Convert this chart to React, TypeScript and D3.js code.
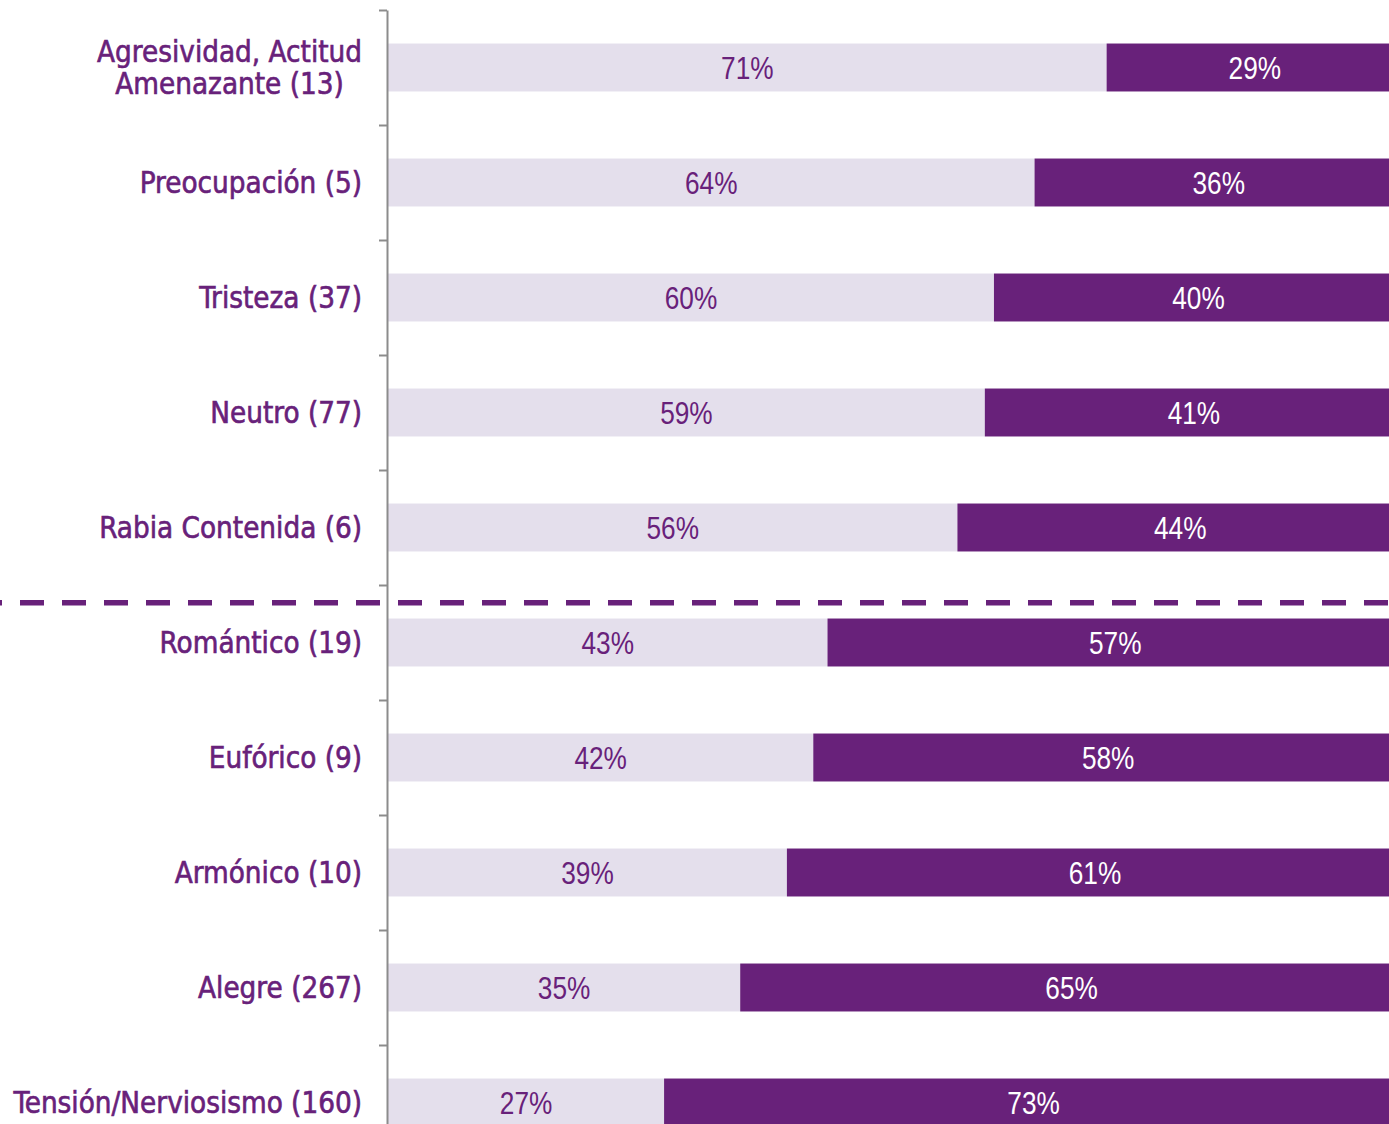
import * as d3 from 'd3';
import { useEffect, useRef } from 'react';

// categories top to bottom, a line break is written as \n
const categories = [
  'Agresividad, Actitud\nAmenazante (13)',
  'Preocupación (5)',
  'Tristeza (37)',
  'Neutro (77)',
  'Rabia Contenida (6)',
  'Romántico (19)',
  'Eufórico (9)',
  'Armónico (10)',
  'Alegre (267)',
  'Tensión/Nerviosismo (160)',
];
// share of each bar, read from the segment edges (in %)
const lightValues = [70.8, 63.7, 59.7, 58.8, 56.1, 43.3, 41.9, 39.3, 34.7, 27.2];
const darkValues = [29.2, 36.3, 40.3, 41.2, 43.9, 56.7, 58.1, 60.7, 65.3, 72.8];
// the dashed separator sits after this many categories
const splitAfter = 5;

const W = 1389;
const H = 1124;
const PURPLE = '#68217a';
const LIGHT = '#e4dfec';

export default function App() {
  const ref = useRef<SVGSVGElement | null>(null);

  useEffect(() => {
    const svg = d3.select(ref.current);
    svg.selectAll('*').remove();

    const top = 10;
    const step = 115;
    const axisX = 387;
    const y = d3.scaleBand<string>()
      .domain(categories)
      .range([top, top + step * categories.length])
      .paddingInner(0.583)
      .paddingOuter(0.2915);
    const yEdge = d3.scaleLinear().domain([0, categories.length]).range([top, top + step * categories.length]);
    const x = d3.scaleLinear().domain([0, 100]).range([388, 1403]);

    const rows = categories.map((c, i) => ({ c, light: lightValues[i], dark: darkValues[i] }));

    const g = svg.append('g');
    const bar = g.selectAll('g.row').data(rows).enter().append('g').attr('class', 'row');

    bar.append('rect')
      .attr('x', x(0)).attr('y', d => y(d.c)!)
      .attr('width', d => x(d.light) - x(0)).attr('height', y.bandwidth())
      .attr('fill', LIGHT);
    bar.append('rect')
      .attr('x', d => x(d.light)).attr('y', d => y(d.c)!)
      .attr('width', d => x(d.light + d.dark) - x(d.light)).attr('height', y.bandwidth())
      .attr('fill', PURPLE);

    // narrow percentage labels: Liberation Sans squeezed horizontally
    const pctFont = '"Liberation Sans", Arial, sans-serif';
    const squeeze = 0.82;
    const pct = (cx: (d: any) => number, val: (d: any) => number, fill: string) =>
      bar.append('text')
        .attr('transform', d => `translate(${cx(d)},${y(d.c)! + y.bandwidth() / 2}) scale(${squeeze},1)`)
        .attr('dy', '0.36em').attr('text-anchor', 'middle')
        .attr('font-family', pctFont).attr('font-size', 32).attr('fill', fill)
        .text(d => `${Math.round(val(d))}%`);
    pct(d => (x(0) + x(d.light)) / 2, d => d.light, PURPLE);
    pct(d => (x(d.light) + x(d.light + d.dark)) / 2, d => d.dark, '#fff');

    // axis with ticks on the band edges
    const axis = d3.axisLeft(yEdge).tickValues(d3.range(0, categories.length + 1)).tickSize(8).tickSizeOuter(0).tickFormat(() => '');
    const ax = svg.append('g').attr('transform', `translate(${axisX},0)`).call(axis);
    ax.select('.domain').attr('stroke', '#8c8c8c').attr('stroke-width', 2);
    ax.selectAll('.tick line').attr('stroke', '#8c8c8c').attr('stroke-width', 2);

    // category labels, multi line ones centred on their widest line
    const labelRight = 362;
    const lineH = 32;
    const labels = svg.append('g')
      .attr('font-family', '"DejaVu Sans Condensed", "DejaVu Sans", sans-serif')
      .attr('font-size', 29.3).attr('fill', PURPLE)
      .attr('stroke', PURPLE).attr('stroke-width', 0.6);
    categories.forEach(c => {
      const lines = c.split('\n');
      const cy = y(c)! + y.bandwidth() / 2;
      const t = labels.append('text').attr('text-anchor', 'end');
      lines.forEach((l, i) => {
        t.append('tspan').attr('x', labelRight)
          .attr('y', cy + (i - (lines.length - 1) / 2) * lineH)
          .attr('dy', '0.36em').text(l);
      });
      if (lines.length > 1) {
        const widths = t.selectAll<SVGTSpanElement, unknown>('tspan').nodes().map(n => n.getComputedTextLength());
        const maxW = d3.max(widths)!;
        t.attr('text-anchor', 'middle').selectAll('tspan').attr('x', labelRight - maxW / 2);
      }
    });

    // dashed separator
    const sepY = (yEdge(splitAfter) + y(categories[splitAfter])!) / 2 + 1;
    svg.append('line')
      .attr('x1', 0).attr('x2', W).attr('y1', sepY).attr('y2', sepY)
      .attr('stroke', PURPLE).attr('stroke-width', 5.5)
      .attr('stroke-dasharray', '24 18').attr('stroke-dashoffset', 22);
  }, []);

  return (
    <svg ref={ref} width={W} height={H} style={{ position: 'absolute', left: 0, top: 0, background: '#fff' }} />
  );
}
